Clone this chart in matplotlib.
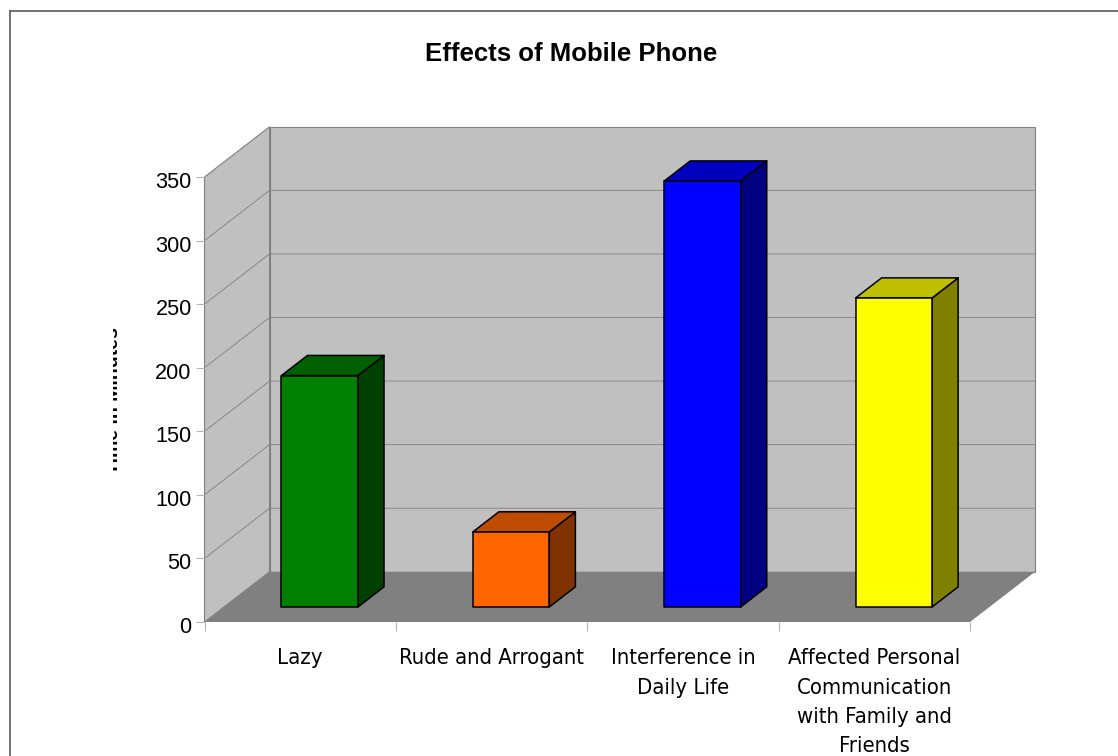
import matplotlib
matplotlib.use("Agg")
import matplotlib.pyplot as plt
from matplotlib.patches import Polygon, Rectangle
from matplotlib.lines import Line2D
from matplotlib.transforms import offset_copy

W, H = 1118, 756
categories = ["Lazy", "Rude and Arrogant", "Interference in\nDaily Life",
              "Affected Personal\nCommunication\nwith Family and\nFriends"]
values = [182, 59, 335, 243]
front_colors = ["#008000", "#ff6600", "#0000ff", "#ffff00"]
side_colors = ["#004000", "#803300", "#000080", "#808000"]
top_colors = ["#006000", "#bf4d00", "#0000bf", "#bfbf00"]
y_ticks = [0, 50, 100, 150, 200, 250, 300, 350]

DX, DY = 0.34, 39.5      # depth vector in data units
BAR_W, D0, D1 = 0.40, 0.30, 0.70

fig = plt.figure(figsize=(W / 100, H / 100), dpi=100, facecolor="white")
ax = fig.add_axes([204.5 / W, 1 - 622 / H, (970 - 204.5) / W, (622 - 177) / H])
ax.set_xlim(0, 4)
ax.set_ylim(0, 350)
ax.patch.set_visible(False)
for s in ax.spines.values():
    s.set_visible(False)


def P(x, y, d=0.0):
    return (x + DX * d, y + DY * d)


GRID = "#808080"
# back wall, side wall, floor
ax.add_patch(Polygon([P(0, 0, 1), P(4, 0, 1), P(4, 350, 1), P(0, 350, 1)],
                     fc="#c0c0c0", ec=GRID, lw=0.8, clip_on=False, zorder=1))
ax.add_patch(Polygon([P(0, 0), P(0, 0, 1), P(0, 350, 1), P(0, 350)],
                     fc="#c0c0c0", ec=GRID, lw=0.8, clip_on=False, zorder=1))
ax.add_patch(Polygon([P(0, 0), P(4, 0), P(4, 0, 1), P(0, 0, 1)],
                     fc="#808080", ec="none", clip_on=False, zorder=2))
for t in y_ticks[1:-1]:
    xs, ys = zip(P(0, t), P(0, t, 1), P(4, t, 1))
    ax.plot(xs, ys, color=GRID, lw=0.6, clip_on=False, zorder=1.5)

# bars
for i, (v, fc, sc, tc) in enumerate(zip(values, front_colors, side_colors, top_colors)):
    l, r = i + 0.5 - BAR_W / 2, i + 0.5 + BAR_W / 2
    kw = dict(ec="black", lw=1.1, joinstyle="round", clip_on=False, zorder=3)
    ax.add_patch(Polygon([P(r, 0, D0), P(r, 0, D1), P(r, v, D1), P(r, v, D0)], fc=sc, **kw))
    ax.add_patch(Polygon([P(l, v, D0), P(r, v, D0), P(r, v, D1), P(l, v, D1)], fc=tc, **kw))
    ax.add_patch(Polygon([P(l, 0, D0), P(r, 0, D0), P(r, v, D0), P(l, v, D0)], fc=fc, **kw))

ax.set_yticks(y_ticks)
ax.set_yticklabels([str(t) for t in y_ticks], family="Liberation Sans", fontsize=15.6)
ax.set_xticks(range(5))
ax.set_xticklabels([])
ax.tick_params(axis="both", color="#b3b3b3", length=6.7, width=0.8, pad=2.5)
for lab in ax.get_yticklabels():
    lab.set_transform(offset_copy(lab.get_transform(), fig=fig, y=-3.0, units="dots"))

label_tr = offset_copy(ax.get_xaxis_transform(), fig=fig, y=-26.5, units="dots")
for i, c in enumerate(categories):
    ax.text(i + 0.5, 0, c, transform=label_tr, ha="center", va="top",
            fontsize=15.8, family="DejaVu Sans", stretch="condensed",
            linespacing=1.58, clip_on=False)

# frame: left and top edges only, the rest lies outside the picture
frame = dict(color="#666666", lw=1.3, transform=fig.transFigure)
fig.add_artist(Line2D([10 / W, 10 / W], [0, 1 - 11 / H], **frame))
fig.add_artist(Line2D([10 / W, 1], [1 - 11 / H, 1 - 11 / H], **frame))

fig.text(571 / W, 1 - 54 / H, "Effects of Mobile Phone", ha="center", va="center",
         family="Liberation Sans", fontweight="bold", fontsize=18.5)
# axis title, half hidden in the reference
yl = fig.text(114 / W, 1 - 400.5 / H, "Time in Minutes", rotation=90, ha="center", va="center",
              family="Liberation Sans", fontweight="bold", fontsize=14)
yl.set_clip_path(Rectangle((113, 0), 20, H, transform=None))
yl.set_clip_on(True)

fig.savefig("out.png", dpi=100, facecolor="white")
